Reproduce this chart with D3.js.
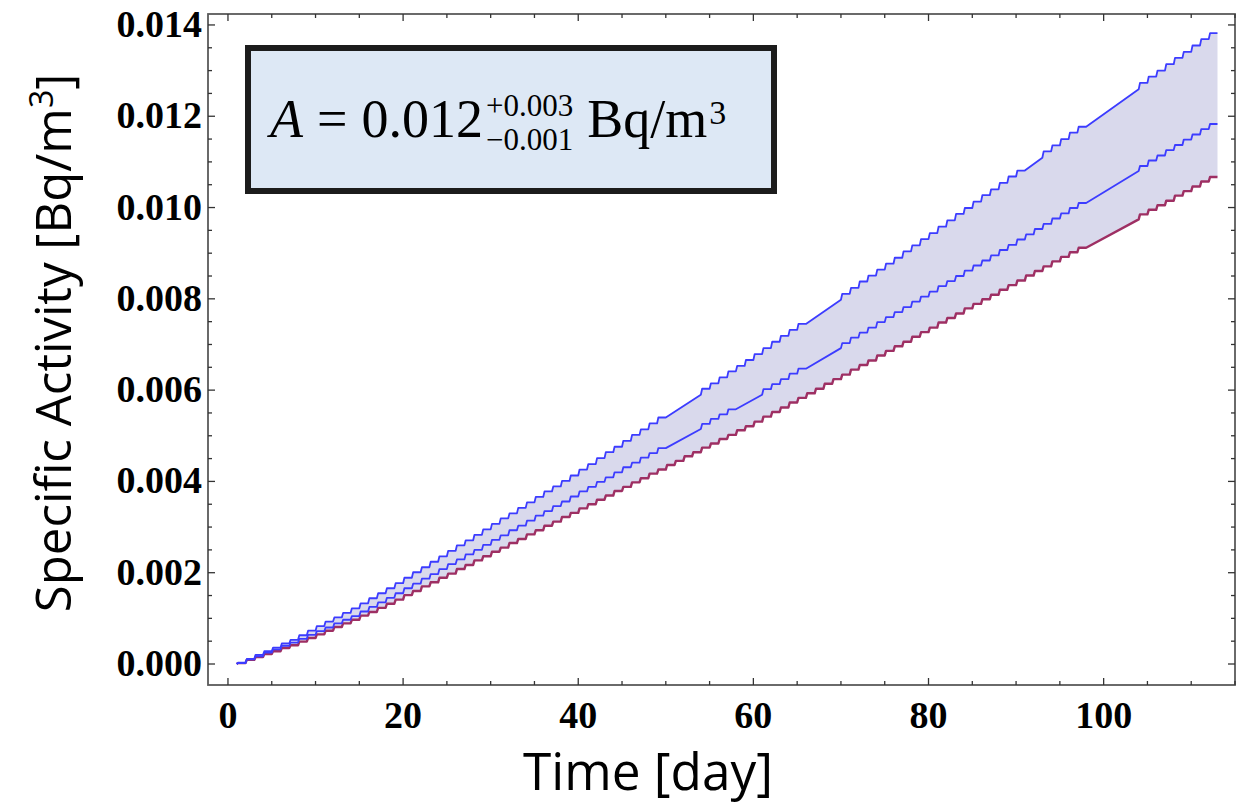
<!DOCTYPE html>
<html>
<head>
<meta charset="utf-8">
<script src="https://cdn.jsdelivr.net/npm/d3@7"></script>
<style>
  body { margin: 0; background: #fff; }
</style>
</head>
<body>
<div id="chart"></div>
<script>

// time axis: one sample per day (day 1 .. 113)
var days = d3.range(1, 114);

// specific activity, in mBq/m^3 (null = no daily sample, line runs straight)
var upper = [
  0, 0.03, 0.11, 0.20, 0.28, 0.36, 0.45, 0.53, 0.63, 0.73,
  0.83, 0.93, 1.02, 1.12, 1.22, 1.33, 1.44, 1.55, 1.66, 1.77,
  1.89, 2.01, 2.12, 2.24, 2.36, 2.48, 2.60, 2.71, 2.83, 2.95,
  3.07, 3.19, 3.30, 3.42, 3.54, 3.66, 3.78, 3.89, 4.01, 4.13,
  4.26, 4.38, 4.51, 4.64, 4.76, 4.89, 5.02, 5.14, 5.27, 5.40,
  null, null, null, 5.90, 6.03, 6.15, 6.28, 6.41, 6.53, 6.66,
  6.79, 6.92, 7.06, 7.19, 7.32, 7.45, null, null, null, 7.98,
  8.11, 8.24, 8.38, 8.51, 8.64, 8.77, 8.90, 9.04, 9.17, 9.31,
  9.44, 9.58, 9.72, 9.86, 9.99, 10.13, 10.27, 10.40, 10.54, 10.68,
  10.81, null, 11.09, 11.23, 11.36, 11.50, 11.64, 11.77, null, null,
  null, null, null, 12.59, 12.73, 12.87, 13.00, 13.14, 13.28, 13.41,
  13.55, 13.69, 13.82
];

var middle = [
  0, 0.02, 0.10, 0.17, 0.25, 0.32, 0.40, 0.47, 0.55, 0.64,
  0.72, 0.80, 0.89, 0.97, 1.05, 1.15, 1.25, 1.35, 1.45, 1.55,
  1.66, 1.76, 1.87, 1.97, 2.08, 2.19, 2.29, 2.40, 2.50, 2.61,
  2.72, 2.82, 2.93, 3.03, 3.14, 3.25, 3.35, 3.46, 3.56, 3.67,
  3.78, 3.88, 3.99, 4.09, 4.20, 4.31, 4.41, 4.52, 4.62, 4.73,
  null, null, null, 5.15, 5.26, 5.37, 5.47, 5.58, null, null,
  5.90, 6.02, 6.13, 6.24, 6.36, 6.47, null, null, null, 6.92,
  7.03, 7.15, 7.26, 7.37, 7.49, 7.60, 7.71, 7.82, 7.94, 8.05,
  8.16, 8.28, 8.39, 8.50, 8.62, 8.73, 8.84, 8.95, 9.07, 9.18,
  9.30, 9.41, 9.53, 9.64, 9.76, 9.87, 9.99, 10.10, null, null,
  null, null, null, 10.80, 10.91, 11.03, 11.14, 11.26, 11.37, 11.49,
  11.60, 11.72, 11.83
];

var lower = [
  0, 0.02, 0.09, 0.15, 0.22, 0.28, 0.35, 0.41, 0.49, 0.57,
  0.65, 0.73, 0.81, 0.89, 0.97, 1.06, 1.14, 1.23, 1.32, 1.41,
  1.51, 1.60, 1.70, 1.79, 1.89, 1.98, 2.08, 2.17, 2.27, 2.36,
  2.46, 2.55, 2.65, 2.74, 2.84, 2.93, 3.03, 3.12, 3.22, 3.31,
  3.41, 3.50, 3.60, 3.69, 3.79, 3.88, 3.98, 4.07, 4.17, 4.26,
  4.36, 4.45, 4.55, 4.64, 4.74, 4.83, 4.93, 5.02, 5.12, 5.21,
  5.31, 5.42, 5.52, 5.62, 5.73, 5.83, 5.93, 6.03, 6.14, 6.24,
  6.34, 6.45, 6.55, 6.65, 6.76, 6.86, 6.96, 7.06, 7.17, 7.27,
  7.37, 7.48, 7.58, 7.68, 7.79, 7.89, 7.99, 8.09, 8.20, 8.30,
  8.40, 8.51, 8.61, 8.71, 8.82, 8.92, 9.02, 9.12, null, null,
  null, null, null, 9.74, 9.85, 9.95, 10.05, 10.15, 10.26, 10.36,
  10.46, 10.57, 10.67
];

// ticks
var xMajor = [0, 20, 40, 60, 80, 100];
var xMinor = [5, 10, 15, 25, 30, 35, 45, 50, 55, 65, 70, 75, 85, 90, 95, 105, 110, 115];
var yMajor = [0, 2, 4, 6, 8, 10, 12, 14];
var yMinor = [0.5, 1, 1.5, 2.5, 3, 3.5, 4.5, 5, 5.5, 6.5, 7, 7.5, 8.5, 9, 9.5, 10.5, 11, 11.5, 12.5, 13, 13.5];

var width = 1237, height = 806;

var svg = d3.select('#chart').append('svg')
    .attr('width', width)
    .attr('height', height);

var x = d3.scaleLinear().domain([-2.28, 115]).range([208, 1235]);
var y = d3.scaleLinear().domain([-0.46, 14.24]).range([685, 14]);

var x0 = x.range()[0], x1 = x.range()[1];
var y0 = y.range()[0], y1 = y.range()[1];

/* staircase points: the daily jump comes first, then a flat tread */
function stepPoints(vals) {
    var pts = [];
    var prev = null;
    days.forEach(function(d, i) {
        var v = vals[i];
        if (v == null) return;
        if (prev && d - prev[0] === 1) {
            pts.push([prev[0] + 0.15, v]);
        }
        pts.push([d, v]);
        prev = [d, v];
    });
    return pts;
}

var line = d3.line()
    .x(function(d) { return x(d[0]); })
    .y(function(d) { return y(d[1]); });

var upPts = stepPoints(upper);
var midPts = stepPoints(middle);
var lowPts = stepPoints(lower);

// band between upper and lower
svg.append('path')
    .attr('d', line(upPts.concat(lowPts.slice().reverse())) + 'Z')
    .style('fill', '#d9d9ec')
    .style('stroke', 'none');

svg.append('path')
    .attr('d', line(lowPts))
    .style('fill', 'none')
    .style('stroke', '#9e2f63')
    .style('stroke-width', 2.4)
    .style('stroke-linejoin', 'round');

[upPts, midPts].forEach(function(p) {
    svg.append('path')
        .attr('d', line(p))
        .style('fill', 'none')
        .style('stroke', '#3c3cff')
        .style('stroke-width', 1.8)
        .style('stroke-linejoin', 'round');
});

// frame
svg.append('rect')
    .attr('x', x0).attr('y', y1)
    .attr('width', x1 - x0).attr('height', y0 - y1)
    .style('fill', 'none')
    .style('stroke', '#5a5a5a')
    .style('stroke-width', 1.8);

var ticks = svg.append('g').style('stroke', '#333').style('stroke-width', 1.3);

function xTicks(vals, len) {
    vals.forEach(function(v) {
        ticks.append('line').attr('x1', x(v)).attr('x2', x(v)).attr('y1', y0).attr('y2', y0 - len);
        ticks.append('line').attr('x1', x(v)).attr('x2', x(v)).attr('y1', y1).attr('y2', y1 + len);
    });
}
function yTicks(vals, len) {
    vals.forEach(function(v) {
        ticks.append('line').attr('x1', x0).attr('x2', x0 + len).attr('y1', y(v)).attr('y2', y(v));
        ticks.append('line').attr('x1', x1).attr('x2', x1 - len).attr('y1', y(v)).attr('y2', y(v));
    });
}
xTicks(xMajor, 7);
xTicks(xMinor, 4);
yTicks(yMajor, 7);
yTicks(yMinor, 4);

// tick labels
svg.selectAll('.xlab')
    .data(xMajor)
    .enter()
    .append('text')
    .attr('class', 'xlab')
    .attr('x', function(d) { return x(d); })
    .attr('y', 728)
    .attr('text-anchor', 'middle')
    .style('font-family', '"Liberation Serif", "Times New Roman", serif')
    .style('font-weight', 'bold')
    .style('font-size', '38px')
    .text(function(d) { return d; });

svg.selectAll('.ylab')
    .data(yMajor)
    .enter()
    .append('text')
    .attr('class', 'ylab')
    .attr('x', 202)
    .attr('y', function(d) { return y(d) + 12; })
    .attr('text-anchor', 'end')
    .style('font-family', '"Liberation Serif", "Times New Roman", serif')
    .style('font-weight', 'bold')
    .style('font-size', '38px')
    .text(function(d) { return (d / 1000).toFixed(3); });

// axis titles
var xt = svg.append('text')
    .attr('x', 648)
    .attr('y', 790)
    .attr('text-anchor', 'middle')
    .style('font-family', '"Open Sans", sans-serif')
    .style('font-size', '56px')
    .text('Time [day]');
var w = xt.node().getComputedTextLength();
xt.style('font-size', (56 * 250 / w) + 'px');

var yt = svg.append('text')
    .attr('transform', 'translate(71,343) rotate(-90)')
    .attr('text-anchor', 'middle')
    .style('font-family', '"Open Sans", sans-serif')
    .style('font-size', '46px');
yt.append('tspan').text('Specific Activity [Bq/m');
yt.append('tspan').attr('dy', -18).style('font-size', '32px').text('3');
yt.append('tspan').attr('dy', 18).text(']');
w = yt.node().getComputedTextLength();
yt.style('font-size', (46 * 540 / w) + 'px');

// annotation box
svg.append('rect')
    .attr('x', 248).attr('y', 48)
    .attr('width', 526).attr('height', 143)
    .style('fill', '#dde8f5')
    .style('stroke', '#1c1c1c')
    .style('stroke-width', 6);

var serif = '"Liberation Serif", "DejaVu Serif", serif';
function boxText(tx, ty, size, str, italic) {
    return svg.append('text')
        .attr('x', tx).attr('y', ty)
        .style('font-family', serif)
        .style('font-size', size + 'px')
        .style('font-style', italic ? 'italic' : 'normal')
        .text(str);
}
// lay the formula out piece by piece
var cx = 270;
var t = boxText(cx, 137, 54, 'A', true);
cx += t.node().getComputedTextLength() + 14;
t = boxText(cx, 137, 54, '=');
cx += t.node().getComputedTextLength() + 14;
t = boxText(cx, 137, 54, '0.012');
cx += t.node().getComputedTextLength() + 3;
var sup = boxText(cx, 116, 31, '+0.003');
var sub = boxText(cx, 150, 31, '\u22120.001');
cx += Math.max(sup.node().getComputedTextLength(), sub.node().getComputedTextLength()) + 14;
t = boxText(cx, 137, 54, 'Bq/m');
cx += t.node().getComputedTextLength() + 2;
boxText(cx, 124, 34, '3');

</script>
</body>
</html>
